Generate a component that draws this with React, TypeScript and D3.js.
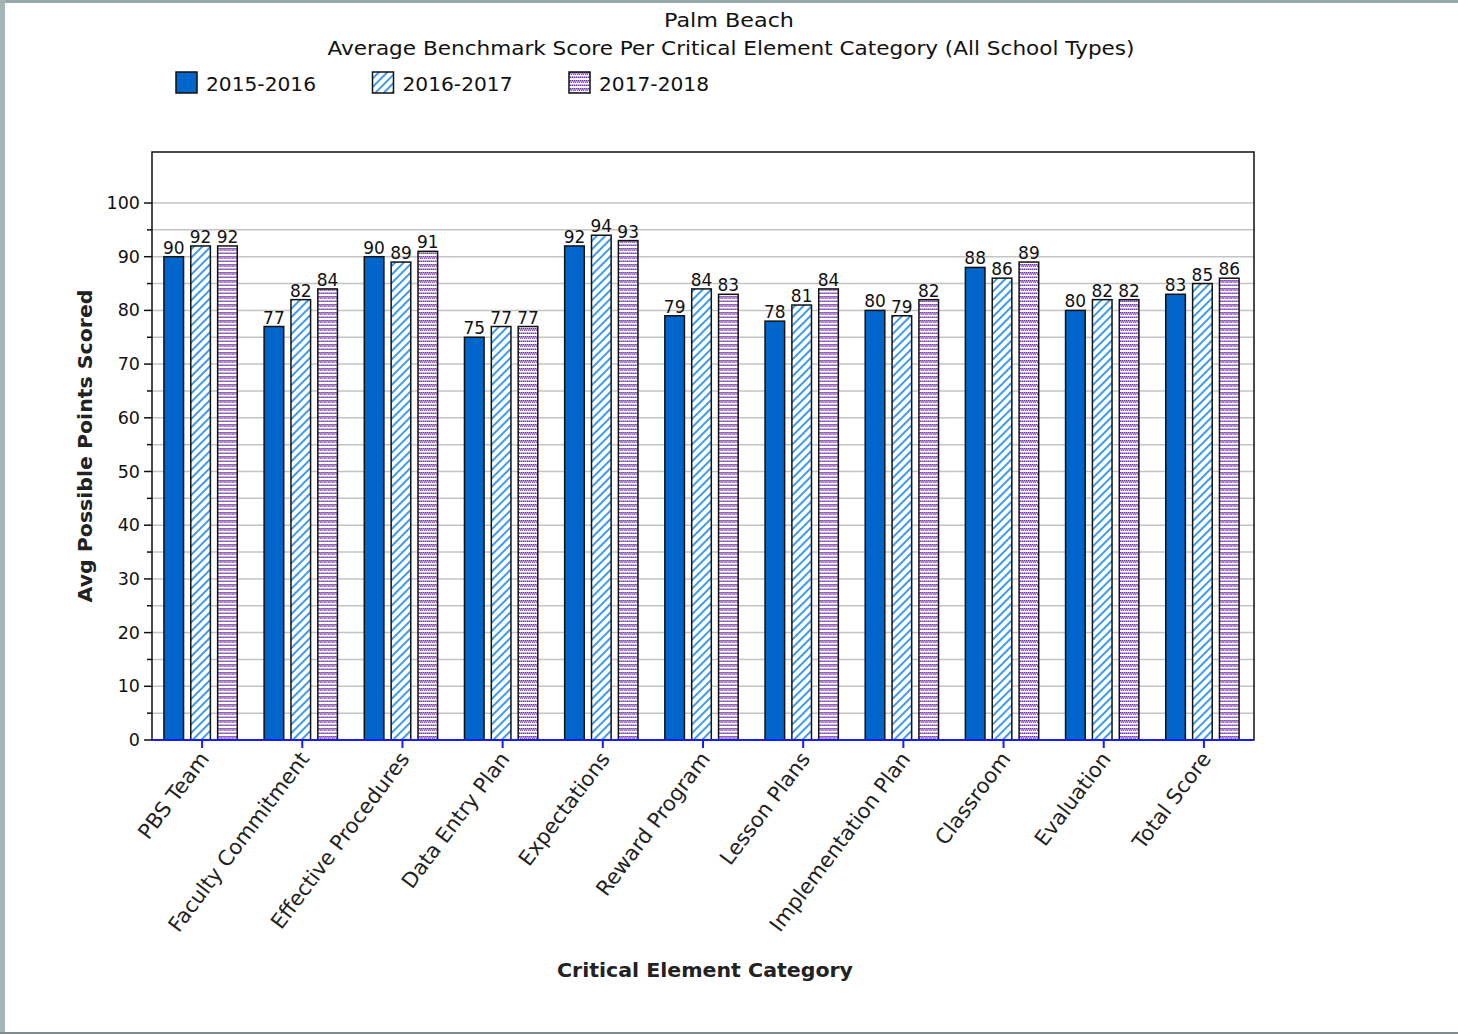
import React from "react";
import * as d3 from "d3";

const categories = [
  "PBS Team",
  "Faculty Commitment",
  "Effective Procedures",
  "Data Entry Plan",
  "Expectations",
  "Reward Program",
  "Lesson Plans",
  "Implementation Plan",
  "Classroom",
  "Evaluation",
  "Total Score",
];
const seriesNames = ["2015-2016", "2016-2017", "2017-2018"];
const values2015 = [90, 77, 90, 75, 92, 79, 78, 80, 88, 80, 83];
const values2016 = [92, 82, 89, 77, 94, 84, 81, 79, 86, 82, 85];
const values2017 = [92, 84, 91, 77, 93, 83, 84, 82, 89, 82, 86];
const seriesValues = [values2015, values2016, values2017];
const yTicks = [0, 10, 20, 30, 40, 50, 60, 70, 80, 90, 100];
const yMinor = [5, 15, 25, 35, 45, 55, 65, 75, 85, 95];

const W = 1458;
const H = 1034;
const plot = { left: 152, right: 1254, top: 152, bottom: 740 };
const FONT = "'DejaVu Sans', Verdana, sans-serif";
const fills = ["#0066cc", "url(#hatch)", "url(#dots)"];

export default function App() {
  const x = d3.scaleBand<string>().domain(categories).range([plot.left, plot.right]).padding(0);
  const x1 = d3
    .scaleBand<string>()
    .domain(seriesNames)
    .range([0, x.bandwidth()])
    .paddingInner(0.27)
    .paddingOuter(0.5);
  const y = d3.scaleLinear().domain([0, 100]).range([plot.bottom, 203]);
  const gridVals = [...yTicks.slice(1), ...yMinor];

  return (
    <svg
      width={W}
      height={H}
      style={{ position: "absolute", left: 0, top: 0, background: "#fff" }}
      fontFamily={FONT}
    >
      <defs>
        <pattern id="hatch" width="6" height="6" patternUnits="userSpaceOnUse" patternTransform="rotate(45)">
          <rect width="6" height="6" fill="#fff" />
          <rect x="0" y="0" width="2" height="6" fill="#3d9bf0" />
        </pattern>
        <pattern id="dots" width="4" height="8" patternUnits="userSpaceOnUse">
          <rect width="4" height="8" fill="#fff" />
          <rect x="0" y="0" width="1.5" height="1.5" fill="#7030a8" />
          <rect x="2" y="0" width="1.5" height="1.5" fill="#7030a8" />
          <rect x="1" y="1.5" width="1.5" height="1.5" fill="#8a4cc0" />
          <rect x="3" y="1.5" width="1.5" height="1.5" fill="#8a4cc0" />
          <rect x="0" y="4.5" width="1.5" height="1.5" fill="#7030a8" />
          <rect x="2" y="4.5" width="1.5" height="1.5" fill="#7030a8" />
        </pattern>
      </defs>

      {/* window frame */}
      <rect x={0} y={0} width={W} height={3} fill="#9aa8ab" />
      <rect x={0} y={0} width={5} height={H} fill="#a7b4b6" />
      <rect x={0} y={H - 2} width={W} height={2} fill="#7d8b8d" />

      {/* titles */}
      <text x={729} y={27} fontSize={20} textAnchor="middle" fill="#111" textLength={130} lengthAdjust="spacingAndGlyphs">
        Palm Beach
      </text>
      <text x={731} y={55} fontSize={20} textAnchor="middle" fill="#111" textLength={807} lengthAdjust="spacingAndGlyphs">
        Average Benchmark Score Per Critical Element Category (All School Types)
      </text>

      {/* legend */}
      {seriesNames.map((s, i) => {
        const lx = 176 + i * 196.5;
        return (
          <g key={s}>
            <rect x={lx} y={72} width={21} height={21} fill={fills[i]} stroke="#111" strokeWidth={1.5} />
            <text x={lx + 30} y={91} fontSize={20} fill="#111" textLength={110} lengthAdjust="spacingAndGlyphs">
              {s}
            </text>
          </g>
        );
      })}

      {/* gridlines */}
      {gridVals.map((v) => (
        <line key={"g" + v} x1={plot.left} x2={plot.right} y1={y(v)} y2={y(v)} stroke="#c4c4c4" strokeWidth={1.5} />
      ))}

      {/* plot frame */}
      <rect
        x={plot.left}
        y={plot.top}
        width={plot.right - plot.left}
        height={plot.bottom - plot.top}
        fill="none"
        stroke="#111"
        strokeWidth={1.5}
      />

      {/* y ticks */}
      {yTicks.map((v) => (
        <g key={"t" + v}>
          <line x1={144} x2={plot.left} y1={y(v)} y2={y(v)} stroke="#111" strokeWidth={1.5} />
          <text x={140} y={y(v) + 6} fontSize={17.5} textAnchor="end" fill="#111">
            {v}
          </text>
        </g>
      ))}
      {yMinor.map((v) => (
        <line key={"m" + v} x1={147} x2={plot.left} y1={y(v)} y2={y(v)} stroke="#111" strokeWidth={1.5} />
      ))}

      {/* bars */}
      {categories.map((c, ci) => (
        <g key={c} transform={`translate(${x(c)! - 1.5},0)`}>
          {seriesNames.map((s, si) => {
            const v = seriesValues[si][ci];
            const bx = x1(s)!;
            const bw = x1.bandwidth();
            return (
              <g key={s}>
                <rect x={bx} y={y(v)} width={bw} height={y(0) - y(v)} fill={fills[si]} stroke="#111" strokeWidth={1.5} />
                <text x={bx + bw / 2} y={y(v) - 3} fontSize={17} textAnchor="middle" fill="#111">
                  {v}
                </text>
              </g>
            );
          })}
        </g>
      ))}

      {/* x axis */}
      <line x1={plot.left} x2={plot.right} y1={plot.bottom} y2={plot.bottom} stroke="#1a1aff" strokeWidth={2} />
      {categories.map((c) => {
        const cx = x(c)! + x.bandwidth() / 2;
        return (
          <g key={"x" + c}>
            <line x1={cx} x2={cx} y1={plot.bottom} y2={plot.bottom + 8} stroke="#1a1aff" strokeWidth={2} />
            <text
              transform={`translate(${cx + 8},${plot.bottom + 19}) rotate(-53)`}
              fontSize={21}
              textAnchor="end"
              fill="#222"
            >
              {c}
            </text>
          </g>
        );
      })}

      {/* axis titles */}
      <text
        transform={`translate(92,446) rotate(-90)`}
        fontSize={20}
        fontWeight="bold"
        textAnchor="middle"
        fill="#222"
        textLength={313}
        lengthAdjust="spacingAndGlyphs"
      >
        Avg Possible Points Scored
      </text>
      <text x={705} y={977} fontSize={20} fontWeight="bold" textAnchor="middle" fill="#222" textLength={296} lengthAdjust="spacingAndGlyphs">
        Critical Element Category
      </text>
    </svg>
  );
}
